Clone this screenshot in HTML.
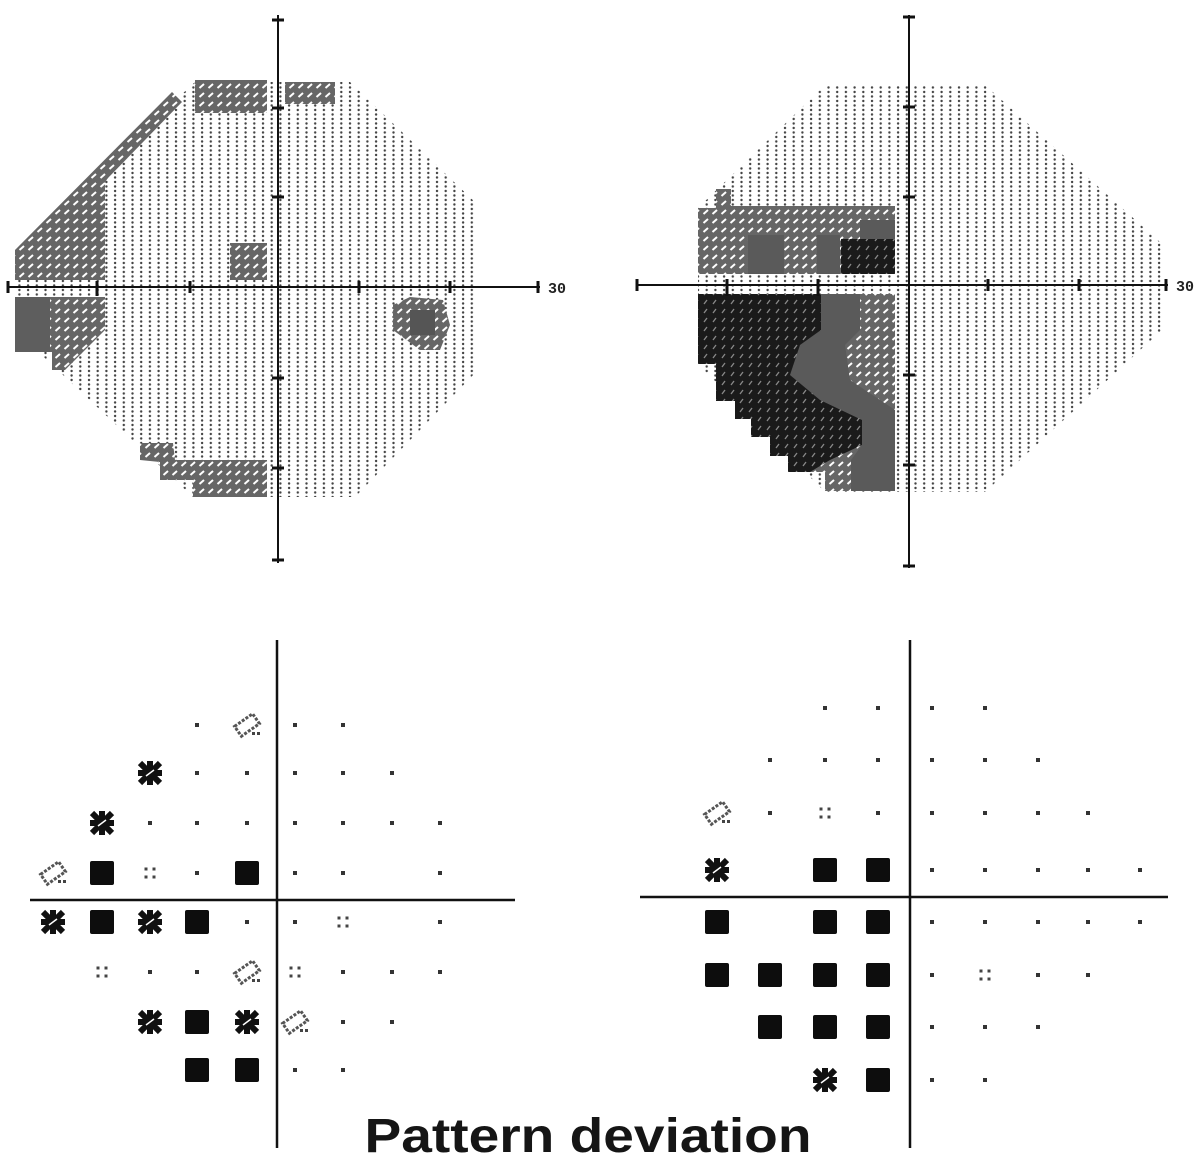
<!DOCTYPE html>
<html><head><meta charset="utf-8"><style>
html,body{margin:0;padding:0;background:#fff;}
svg{display:block;}
</style></head><body>
<svg id="s" xmlns="http://www.w3.org/2000/svg" width="1203" height="1163" viewBox="0 0 1203 1163">
<defs>
<pattern id="dots" width="8.7" height="4.5" patternUnits="userSpaceOnUse">
<circle cx="2" cy="2" r="1.2" fill="#444"/>
</pattern>
<pattern id="hatch" width="9" height="9" patternUnits="userSpaceOnUse">
<rect width="9" height="9" fill="#666"/>
<line x1="1.5" y1="7" x2="6" y2="3" stroke="#fff" stroke-width="2"/>
</pattern>
<pattern id="blk" width="9" height="9" patternUnits="userSpaceOnUse">
<rect width="9" height="9" fill="#1a1a1a"/>
<line x1="2" y1="7" x2="5" y2="3" stroke="#888" stroke-width="1.3"/>
</pattern>
</defs>

<polygon points="195,82 350,82 478,205 478,370 355,497 193,497 15,330 15,250" fill="url(#dots)"/>
<g fill="url(#hatch)">
<rect x="195" y="80" width="72" height="33"/>
<rect x="285" y="82" width="50" height="22"/>
<polygon points="15,250 172,92 182,102 108,178 105,182 105,280 15,280"/>
<rect x="230" y="243" width="37" height="37"/>
<polygon points="15,297 105,297 105,330 90,345 75,360 65,370 52,370 52,352 15,352"/>
<polygon points="393,305 410,297 443,300 450,325 440,350 420,350 393,330"/>
<polygon points="140,443 173,443 175,460 267,460 267,497 193,497 193,480 160,480 160,462 140,460"/>
</g>
<rect x="15" y="297" width="35" height="55" fill="#5e5e5e"/>
<rect x="410" y="310" width="25" height="25" fill="#555"/>

<polygon points="825,85 985,85 1161,243 1161,331 985,492 825,492 698,364 698,208" fill="url(#dots)"/>
<g fill="url(#hatch)">
<polygon points="698,208 716,208 716,189 731,189 731,206 895,206 895,274 698,274"/>
<polygon points="698,294 895,294 895,491 825,491 825,472 788,472 788,456 770,456 770,437 751,437 751,419 735,419 735,401 716,401 716,364 698,364"/>
</g>
<g fill="#5a5a5a">
<rect x="748" y="235" width="36" height="39"/>
<rect x="817" y="235" width="23" height="39"/>
<rect x="860" y="220" width="35" height="20"/>
<polygon points="821,294 860,294 860,330 845,345 850,380 895,410 895,491 851,491 851,460 862,445 862,420 820,400 790,375 800,345 821,330"/>
</g>
<rect x="841" y="239" width="54" height="35" fill="url(#blk)"/>
<polygon points="698,294 821,294 821,330 800,345 790,375 820,400 862,420 862,445 830,460 810,472 788,472 788,456 770,456 770,437 751,437 751,419 735,419 735,401 716,401 716,364 698,364" fill="url(#blk)"/>

<g stroke="#111" stroke-width="2" fill="none">
<line x1="8" y1="287" x2="540" y2="287"/>
<line x1="278" y1="15" x2="278" y2="563"/>
<line x1="637" y1="285" x2="1168" y2="285"/>
<line x1="909" y1="15" x2="909" y2="568"/>
</g>
<g stroke="#111" stroke-width="3">
<line x1="8" y1="281" x2="8" y2="293"/><line x1="97" y1="281" x2="97" y2="296"/><line x1="190" y1="281" x2="190" y2="293"/><line x1="359" y1="281" x2="359" y2="293"/><line x1="450" y1="281" x2="450" y2="293"/><line x1="538" y1="281" x2="538" y2="293"/>
<line x1="272" y1="20" x2="284" y2="20"/><line x1="272" y1="108" x2="284" y2="108"/><line x1="272" y1="197" x2="284" y2="197"/><line x1="272" y1="378" x2="284" y2="378"/><line x1="272" y1="468" x2="284" y2="468"/><line x1="272" y1="560" x2="284" y2="560"/>
<line x1="637" y1="279" x2="637" y2="291"/><line x1="727" y1="279" x2="727" y2="296"/><line x1="818" y1="279" x2="818" y2="296"/><line x1="988" y1="279" x2="988" y2="291"/><line x1="1079" y1="279" x2="1079" y2="291"/><line x1="1166" y1="279" x2="1166" y2="291"/>
<line x1="903" y1="17" x2="915" y2="17"/><line x1="903" y1="107" x2="915" y2="107"/><line x1="903" y1="197" x2="915" y2="197"/><line x1="903" y1="375" x2="915" y2="375"/><line x1="903" y1="465" x2="915" y2="465"/><line x1="903" y1="566" x2="915" y2="566"/>
</g>
<text x="548" y="293" font-family="Liberation Mono, monospace" font-weight="bold" font-size="15" fill="#222">30</text>
<text x="1176" y="291" font-family="Liberation Mono, monospace" font-weight="bold" font-size="15" fill="#222">30</text>

<g stroke="#111" stroke-width="2.5">
<line x1="277" y1="640" x2="277" y2="1148"/>
<line x1="30" y1="900" x2="515" y2="900"/>
<line x1="910" y1="640" x2="910" y2="1148"/>
<line x1="640" y1="897" x2="1168" y2="897"/>
</g>
<g id="bl"></g>

<text x="588" y="1152" text-anchor="middle" font-family="Liberation Sans, sans-serif" font-weight="bold" font-size="48" textLength="447" lengthAdjust="spacingAndGlyphs" fill="#151515">Pattern deviation</text>
</svg>
<script>
var NS="http://www.w3.org/2000/svg";var g=document.getElementById("bl");
function el(t,a){var e=document.createElementNS(NS,t);for(var k in a)e.setAttribute(k,a[k]);g.appendChild(e);return e;}
function sym(t,x,y){
 if(t=="d"){el("rect",{x:x-2,y:y-2,width:4,height:4,fill:"#333"});}
 else if(t=="c"){[[-4,-4],[4,-4],[-4,4],[4,4]].forEach(function(p){el("rect",{x:x+p[0]-1.5,y:y+p[1]-1.5,width:3,height:3,fill:"#444"});});}
 else if(t=="s"){el("rect",{x:x-12,y:y-12,width:24,height:24,rx:2,fill:"#0d0d0d"});}
 else if(t=="x"){el("path",{d:"M"+(x-10)+","+(y-10)+"L"+(x+10)+","+(y+10)+"M"+(x+10)+","+(y-10)+"L"+(x-10)+","+(y+10)+"M"+x+","+(y-12)+"L"+x+","+(y+12)+"M"+(x-12)+","+y+"L"+(x+12)+","+y,stroke:"#111","stroke-width":6,fill:"none"});el("line",{x1:x-4,y1:y+3,x2:x+4,y2:y-3,stroke:"#fff","stroke-width":1.5});}
 else if(t=="h"){el("rect",{x:x-11,y:y-6,width:22,height:12,fill:"none",stroke:"#555","stroke-width":3,"stroke-dasharray":"3 1.5",transform:"rotate(-35 "+x+" "+y+")"});el("rect",{x:x+5,y:y+7,width:3,height:3,fill:"#444"});el("rect",{x:x+10,y:y+7,width:3,height:3,fill:"#444"});}
}
var L={cx:[53,102,150,197,247,295,343,392,440],ry:[725,773,823,873,922,972,1022,1070],
rows:[
{3:"d",4:"h",5:"d",6:"d"},
{2:"x",3:"d",4:"d",5:"d",6:"d",7:"d"},
{1:"x",2:"d",3:"d",4:"d",5:"d",6:"d",7:"d",8:"d"},
{0:"h",1:"s",2:"c",3:"d",4:"s",5:"d",6:"d",8:"d"},
{0:"x",1:"s",2:"x",3:"s",4:"d",5:"d",6:"c",8:"d"},
{1:"c",2:"d",3:"d",4:"h",5:"c",6:"d",7:"d",8:"d"},
{2:"x",3:"s",4:"x",5:"h",6:"d",7:"d"},
{3:"s",4:"s",5:"d",6:"d"}]};
var R={cx:[717,770,825,878,932,985,1038,1088,1140],ry:[708,760,813,870,922,975,1027,1080],
rows:[
{2:"d",3:"d",4:"d",5:"d"},
{1:"d",2:"d",3:"d",4:"d",5:"d",6:"d"},
{0:"h",1:"d",2:"c",3:"d",4:"d",5:"d",6:"d",7:"d"},
{0:"x",2:"s",3:"s",4:"d",5:"d",6:"d",7:"d",8:"d"},
{0:"s",2:"s",3:"s",4:"d",5:"d",6:"d",7:"d",8:"d"},
{0:"s",1:"s",2:"s",3:"s",4:"d",5:"c",6:"d",7:"d"},
{1:"s",2:"s",3:"s",4:"d",5:"d",6:"d"},
{2:"x",3:"s",4:"d",5:"d"}]};
[L,R].forEach(function(P){P.rows.forEach(function(r,i){for(var c in r)sym(r[c],P.cx[c],P.ry[i]);});});
</script>
</body></html>
